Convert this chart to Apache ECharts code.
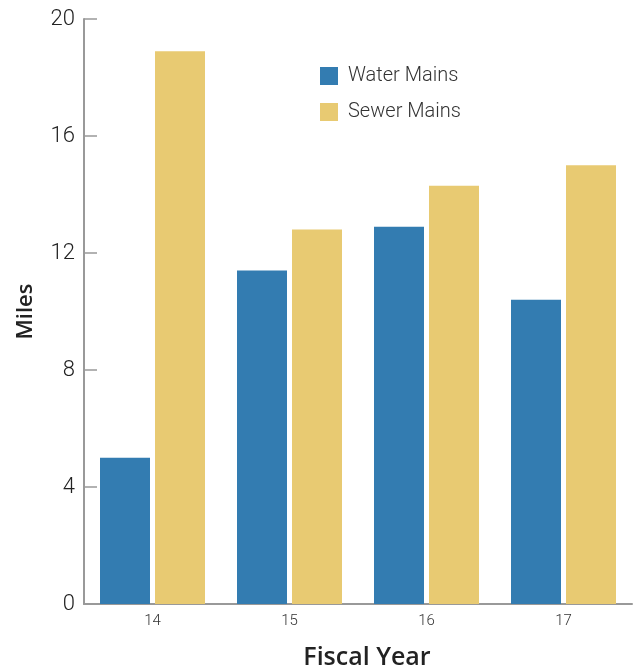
<!DOCTYPE html>
<html><head><meta charset="utf-8">
<script src="https://cdn.jsdelivr.net/npm/echarts@6/dist/echarts.min.js"></script>
<style>html,body{margin:0;padding:0;background:#fff}#c{width:634px;height:669px}</style>
</head><body><div id="c"></div>
<script>
const categories = ['14', '15', '16', '17'];
const waterMains = [5.0, 11.4, 12.9, 10.4];
const sewerMains = [18.9, 12.8, 14.3, 15.0];
const yTicks = [0, 4, 8, 12, 16, 20];

const light = 'Roboto';
const chart = echarts.init(document.getElementById('c'));
chart.setOption({
  animation: false,
  grid: { left: 84, top: 19, right: 2, bottom: 65, containLabel: false, outerBoundsMode: 'none' },
  legend: {
    left: 320, top: 66, padding: 0, orient: 'vertical', itemWidth: 18, itemHeight: 18, itemGap: 16,
    icon: 'rect',
    textStyle: { fontFamily: light, fontWeight: 300, fontSize: 20, lineHeight: 18, color: '#333', padding: [0, 0, 0, 5] },
    data: ['Water Mains', 'Sewer Mains']
  },
  xAxis: {
    type: 'category', data: categories,
    name: 'Fiscal Year', nameLocation: 'middle', nameGap: 41,
    nameTextStyle: { fontFamily: 'Open Sans', fontWeight: 600, fontSize: 25, color: '#222', padding: [0, 0, 0, 18] },
    axisLine: { lineStyle: { color: '#999', width: 2 } },
    axisTick: { inside: true, length: 14, lineStyle: { color: '#999', width: 1.5 } },
    axisLabel: { fontFamily: light, fontWeight: 300, fontSize: 15, color: '#333', margin: 10 }
  },
  yAxis: {
    type: 'value', min: yTicks[0], max: yTicks[yTicks.length - 1], interval: 4,
    name: 'Miles', nameLocation: 'middle', nameGap: 47, nameRotate: 90,
    nameTextStyle: { fontFamily: 'Open Sans', fontWeight: 600, fontSize: 22, color: '#222' },
    axisLine: { show: true, lineStyle: { color: '#999', width: 2 } },
    axisTick: { show: true, inside: true, length: 13, lineStyle: { color: '#999', width: 1.5 } },
    splitLine: { show: false },
    axisLabel: { fontFamily: light, fontWeight: 300, fontSize: 22, color: '#222', margin: 9 }
  },
  series: [
    { name: 'Water Mains', type: 'bar', data: waterMains, barWidth: 50, barGap: '10%',
      itemStyle: { color: '#337CB1' } },
    { name: 'Sewer Mains', type: 'bar', data: sewerMains, barWidth: 50,
      itemStyle: { color: '#E8CA72' } }
  ]
});
</script></body></html>
